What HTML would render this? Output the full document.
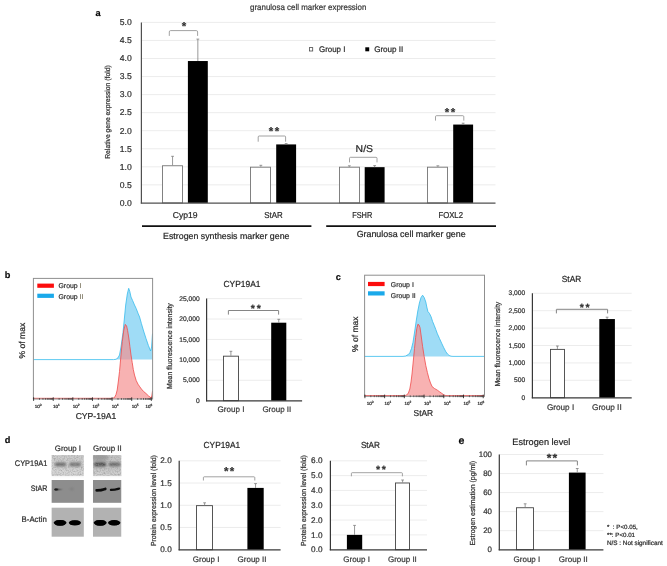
<!DOCTYPE html>
<html lang="en"><head><meta charset="utf-8"><title>granulosa cell marker expression</title>
<style>html,body{margin:0;padding:0;background:#fff}svg{display:block;will-change:transform}text{font-family:"Liberation Sans",sans-serif;text-rendering:geometricPrecision;stroke:#333;stroke-width:.22px}</style></head><body>
<svg width="667" height="566" viewBox="0 0 667 566">
<defs><filter id="b1" x="-20%" y="-80%" width="140%" height="260%"><feGaussianBlur stdDeviation="0.9"/></filter><filter id="b2" x="-20%" y="-80%" width="140%" height="260%"><feGaussianBlur stdDeviation="0.6"/></filter><filter id="b3" x="-20%" y="-80%" width="140%" height="260%"><feGaussianBlur stdDeviation="1.4"/></filter><filter id="nz" x="0" y="0" width="100%" height="100%"><feTurbulence type="fractalNoise" baseFrequency="0.7" numOctaves="2" seed="7" result="n"/><feColorMatrix in="n" type="matrix" values="0 0 0 0 0.3  0 0 0 0 0.3  0 0 0 0 0.3  1.5 0 0 0 -0.6"/><feGaussianBlur stdDeviation="0.35"/><feComposite operator="in" in2="SourceGraphic"/></filter></defs>
<rect width="667" height="566" fill="#fff"/>
<g id="panel-a">
<text x="98.15" y="16.11" font-size="9.20" text-anchor="middle" fill="#000" font-family='"Liberation Sans", sans-serif' font-weight="bold">a</text>
<text x="308.20" y="9.67" font-size="8.30" text-anchor="middle" fill="#404040" font-family='"Liberation Sans", sans-serif' textLength="116.40" lengthAdjust="spacingAndGlyphs">granulosa cell marker expression</text>
<text x="131.80" y="205.73" font-size="8.60" text-anchor="end" fill="#333">0.0</text>
<line x1="141.40" y1="184.85" x2="495.50" y2="184.85" stroke="#e7e7e7" stroke-width="0.8"/>
<text x="131.80" y="187.68" font-size="8.60" text-anchor="end" fill="#333">0.5</text>
<line x1="141.40" y1="166.80" x2="495.50" y2="166.80" stroke="#e7e7e7" stroke-width="0.8"/>
<text x="131.80" y="169.63" font-size="8.60" text-anchor="end" fill="#333">1.0</text>
<line x1="141.40" y1="148.75" x2="495.50" y2="148.75" stroke="#e7e7e7" stroke-width="0.8"/>
<text x="131.80" y="151.58" font-size="8.60" text-anchor="end" fill="#333">1.5</text>
<line x1="141.40" y1="130.70" x2="495.50" y2="130.70" stroke="#e7e7e7" stroke-width="0.8"/>
<text x="131.80" y="133.53" font-size="8.60" text-anchor="end" fill="#333">2.0</text>
<line x1="141.40" y1="112.65" x2="495.50" y2="112.65" stroke="#e7e7e7" stroke-width="0.8"/>
<text x="131.80" y="115.48" font-size="8.60" text-anchor="end" fill="#333">2.5</text>
<line x1="141.40" y1="94.60" x2="495.50" y2="94.60" stroke="#e7e7e7" stroke-width="0.8"/>
<text x="131.80" y="97.43" font-size="8.60" text-anchor="end" fill="#333">3.0</text>
<line x1="141.40" y1="76.55" x2="495.50" y2="76.55" stroke="#e7e7e7" stroke-width="0.8"/>
<text x="131.80" y="79.38" font-size="8.60" text-anchor="end" fill="#333">3.5</text>
<line x1="141.40" y1="58.50" x2="495.50" y2="58.50" stroke="#e7e7e7" stroke-width="0.8"/>
<text x="131.80" y="61.33" font-size="8.60" text-anchor="end" fill="#333">4.0</text>
<line x1="141.40" y1="40.45" x2="495.50" y2="40.45" stroke="#e7e7e7" stroke-width="0.8"/>
<text x="131.80" y="43.28" font-size="8.60" text-anchor="end" fill="#333">4.5</text>
<line x1="141.40" y1="22.40" x2="495.50" y2="22.40" stroke="#e7e7e7" stroke-width="0.8"/>
<text x="131.80" y="25.23" font-size="8.60" text-anchor="end" fill="#333">5.0</text>
<rect x="162.50" y="165.76" width="20.00" height="37.14" fill="#fff" stroke="#747474" stroke-width="0.9"/>
<path d="M172.55 165.36V156.30M171.15 156.30H173.95" stroke="#7f7f7f" stroke-width="0.8" fill="none"/>
<rect x="187.90" y="61.03" width="19.90" height="141.87" fill="#000"/>
<path d="M197.85 61.03V39.10M196.45 39.10H199.25" stroke="#7f7f7f" stroke-width="0.8" fill="none"/>
<rect x="250.50" y="167.20" width="20.00" height="35.70" fill="#fff" stroke="#747474" stroke-width="0.9"/>
<path d="M260.85 166.80V165.30M259.45 165.30H262.25" stroke="#7f7f7f" stroke-width="0.8" fill="none"/>
<rect x="276.20" y="144.42" width="19.90" height="58.48" fill="#000"/>
<path d="M286.15 144.42V143.60M284.75 143.60H287.55" stroke="#7f7f7f" stroke-width="0.8" fill="none"/>
<rect x="339.50" y="167.20" width="20.00" height="35.70" fill="#fff" stroke="#747474" stroke-width="0.9"/>
<path d="M349.35 166.80V165.80M347.95 165.80H350.75" stroke="#7f7f7f" stroke-width="0.8" fill="none"/>
<rect x="364.70" y="167.16" width="19.90" height="35.74" fill="#000"/>
<path d="M374.65 167.16V165.60M373.25 165.60H376.05" stroke="#7f7f7f" stroke-width="0.8" fill="none"/>
<rect x="427.50" y="167.20" width="20.00" height="35.70" fill="#fff" stroke="#747474" stroke-width="0.9"/>
<path d="M437.85 166.80V165.80M436.45 165.80H439.25" stroke="#7f7f7f" stroke-width="0.8" fill="none"/>
<rect x="453.20" y="124.56" width="19.90" height="78.34" fill="#000"/>
<path d="M463.15 124.56V123.20M461.75 123.20H464.55" stroke="#7f7f7f" stroke-width="0.8" fill="none"/>
<line x1="141.40" y1="22.40" x2="141.40" y2="203.50" stroke="#505050" stroke-width="1.2"/>
<line x1="140.80" y1="203.05" x2="495.50" y2="203.05" stroke="#505050" stroke-width="1.3"/>
<text transform="translate(110.17 112.05) rotate(-90)" font-size="7.19" text-anchor="middle" fill="#333" textLength="93.50" lengthAdjust="spacingAndGlyphs">Relative gene expression (fold)</text>
<rect x="309.5" y="47.6" width="3.2" height="3.4" fill="#fff" stroke="#4a4a4a" stroke-width="0.8"/>
<text x="332.20" y="52.00" font-size="8.10" text-anchor="middle" fill="#262626" font-family='"Liberation Sans", sans-serif' textLength="26.40" lengthAdjust="spacingAndGlyphs">Group I</text>
<rect x="365.3" y="47.3" width="3.9" height="4.0" fill="#000"/>
<text x="388.75" y="52.00" font-size="8.10" text-anchor="middle" fill="#262626" font-family='"Liberation Sans", sans-serif'>Group II</text>
<path d="M169.30 35.90V31.90Q169.30 30.60 170.60 30.60H196.30Q197.60 30.60 197.60 31.90V35.90" stroke="#8a8a8a" stroke-width="0.8" fill="none"/>
<text x="184.00" y="29.98" font-size="11.50" text-anchor="middle" fill="#303030" font-weight="bold">*</text>
<path d="M258.20 141.70V137.00Q258.20 136.00 259.20 136.00H284.60Q285.60 136.00 285.60 137.00V141.70" stroke="#8a8a8a" stroke-width="0.8" fill="none"/>
<text x="274.66" y="135.18" font-size="11.50" text-anchor="middle" fill="#303030" font-weight="bold" letter-spacing="1.33">**</text>
<path d="M349.50 162.40V158.30Q349.50 157.30 350.50 157.30H376.00Q377.00 157.30 377.00 158.30V162.40" stroke="#8a8a8a" stroke-width="0.8" fill="none"/>
<text x="364.30" y="151.88" font-size="10.00" text-anchor="middle" fill="#1a1a1a" font-family='"Liberation Sans", sans-serif' textLength="17.40" lengthAdjust="spacingAndGlyphs">N/S</text>
<path d="M435.50 120.60V116.70Q435.50 115.70 436.50 115.70H462.80Q463.80 115.70 463.80 116.70V120.60" stroke="#8a8a8a" stroke-width="0.8" fill="none"/>
<text x="450.66" y="116.08" font-size="11.50" text-anchor="middle" fill="#303030" font-weight="bold" letter-spacing="1.33">**</text>
<text x="185.10" y="218.48" font-size="8.60" text-anchor="middle" fill="#262626" font-family='"Liberation Sans", sans-serif'>Cyp19</text>
<text x="273.40" y="218.48" font-size="8.60" text-anchor="middle" fill="#262626" font-family='"Liberation Sans", sans-serif' textLength="18.40" lengthAdjust="spacingAndGlyphs">StAR</text>
<text x="362.20" y="218.48" font-size="8.60" text-anchor="middle" fill="#262626" font-family='"Liberation Sans", sans-serif' textLength="20.00" lengthAdjust="spacingAndGlyphs">FSHR</text>
<text x="450.70" y="218.48" font-size="8.60" text-anchor="middle" fill="#262626" font-family='"Liberation Sans", sans-serif' textLength="24.60" lengthAdjust="spacingAndGlyphs">FOXL2</text>
<line x1="142.00" y1="226.20" x2="311.40" y2="226.20" stroke="#111" stroke-width="1.8"/>
<line x1="326.20" y1="226.20" x2="496.00" y2="226.20" stroke="#111" stroke-width="1.8"/>
<text x="226.25" y="238.66" font-size="8.82" text-anchor="middle" fill="#1a1a1a" font-family='"Liberation Sans", sans-serif'>Estrogen synthesis marker gene</text>
<text x="411.15" y="237.38" font-size="8.88" text-anchor="middle" fill="#1a1a1a" font-family='"Liberation Sans", sans-serif'>Granulosa cell marker gene</text>
</g>
<g id="panel-b">
<text x="7.55" y="278.39" font-size="9.20" text-anchor="middle" fill="#000" font-family='"Liberation Sans", sans-serif' font-weight="bold">b</text>
<path d="M33.4 359.6L33.4 359.6L113.5 359.6L116.0 359.3L118.0 357.8L119.5 355.0L121.0 347.0L123.0 332.5L125.7 305.0L127.3 294.0L128.7 288.3L129.8 291.5L131.0 297.0L132.6 300.5L134.5 305.0L136.2 308.5L138.0 313.2L139.6 317.0L141.4 323.5L143.6 331.0L146.0 338.5L148.4 345.5L150.6 351.0L151.6 347.0L152.5 333.5L152.5 359.6Z" fill="#9fdcf6" stroke="none"/>
<path d="M33.4 359.6L33.4 359.6L113.5 359.6L116.0 359.3L118.0 357.8L119.5 355.0L121.0 347.0L123.0 332.5L125.7 305.0L127.3 294.0L128.7 288.3L129.8 291.5L131.0 297.0L132.6 300.5L134.5 305.0L136.2 308.5L138.0 313.2L139.6 317.0L141.4 323.5L143.6 331.0L146.0 338.5L148.4 345.5L150.6 351.0L151.6 347.0L152.5 333.5" fill="none" stroke="#36bbec" stroke-width="0.8" stroke-linejoin="round"/>
<path d="M33.4 399.0L33.4 398.3L112.5 398.3L114.5 397.5L116.0 394.5L117.2 390.0L118.4 381.0L119.5 371.5L121.0 355.0L122.3 341.5L123.8 330.0L125.3 324.4L126.6 326.0L127.6 330.5L128.8 338.0L129.9 346.5L131.0 355.0L132.2 362.5L133.3 369.5L134.5 375.0L136.2 380.5L138.0 384.2L139.8 386.8L141.4 389.0L143.6 391.5L146.0 393.5L148.6 396.0L151.0 397.8L151.8 396.0L152.5 391.0L152.5 399.0Z" fill="#f48e8e" fill-opacity="0.68" stroke="none"/>
<path d="M33.4 399.0L33.4 398.3L112.5 398.3L114.5 397.5L116.0 394.5L117.2 390.0L118.4 381.0L119.5 371.5L121.0 355.0L122.3 341.5L123.8 330.0L125.3 324.4L126.6 326.0L127.6 330.5L128.8 338.0L129.9 346.5L131.0 355.0L132.2 362.5L133.3 369.5L134.5 375.0L136.2 380.5L138.0 384.2L139.8 386.8L141.4 389.0L143.6 391.5L146.0 393.5L148.6 396.0L151.0 397.8L151.8 396.0L152.5 391.0" fill="none" stroke="#f04a4a" stroke-width="0.8" stroke-linejoin="round"/>
<rect x="33.4" y="278.4" width="119.2" height="120.6" fill="none" stroke="#8f8f8f" stroke-width="1"/>
<path d="M39.51 398.0v1.9M42.96 398.0v1.9M45.41 398.0v1.9M47.31 398.0v1.9M48.87 398.0v1.9M50.18 398.0v1.9M51.32 398.0v1.9M52.32 398.0v1.9M59.13 398.0v1.9M62.58 398.0v1.9M65.03 398.0v1.9M66.93 398.0v1.9M68.49 398.0v1.9M69.80 398.0v1.9M70.94 398.0v1.9M71.94 398.0v1.9M78.75 398.0v1.9M82.20 398.0v1.9M84.65 398.0v1.9M86.55 398.0v1.9M88.11 398.0v1.9M89.42 398.0v1.9M90.56 398.0v1.9M91.56 398.0v1.9M98.37 398.0v1.9M101.82 398.0v1.9M104.27 398.0v1.9M106.17 398.0v1.9M107.73 398.0v1.9M109.04 398.0v1.9M110.18 398.0v1.9M111.18 398.0v1.9M117.99 398.0v1.9M121.44 398.0v1.9M123.89 398.0v1.9M125.79 398.0v1.9M127.35 398.0v1.9M128.66 398.0v1.9M129.80 398.0v1.9M130.80 398.0v1.9M137.61 398.0v1.9M141.06 398.0v1.9M143.51 398.0v1.9M145.41 398.0v1.9M146.97 398.0v1.9M148.28 398.0v1.9M149.42 398.0v1.9M150.42 398.0v1.9" stroke="#1a1a1a" stroke-width="0.55" fill="none"/>
<path d="M33.60 397.3v3.6M53.22 397.3v3.6M72.84 397.3v3.6M92.46 397.3v3.6M112.08 397.3v3.6M131.70 397.3v3.6M151.32 397.3v3.6" stroke="#111" stroke-width="0.8" fill="none"/>
<rect x="37.3" y="283.6" width="16.6" height="4.2" fill="#fc0d0d"/>
<rect x="37.3" y="293.7" width="16.6" height="4.2" fill="#1aa9ea"/>
<text x="58.50" y="288.37" font-size="6.9" fill="#333">Group <tspan fill="#7d7762" stroke="#7d7762">I</tspan></text>
<text x="58.50" y="298.67" font-size="6.9" fill="#333">Group <tspan fill="#7d7762" stroke="#7d7762">II</tspan></text>
<text transform="translate(25.22 340.60) rotate(-90)" font-size="8.54" text-anchor="middle" fill="#262626">% of max</text>
<text x="38.1" y="407.6" font-size="4.5" text-anchor="middle" fill="#0a0a0a">10<tspan font-size="3.2" dy="-1.9">0</tspan></text>
<text x="56.3" y="407.6" font-size="4.5" text-anchor="middle" fill="#0a0a0a">10<tspan font-size="3.2" dy="-1.9">1</tspan></text>
<text x="76.1" y="407.6" font-size="4.5" text-anchor="middle" fill="#0a0a0a">10<tspan font-size="3.2" dy="-1.9">2</tspan></text>
<text x="95.8" y="407.6" font-size="4.5" text-anchor="middle" fill="#0a0a0a">10<tspan font-size="3.2" dy="-1.9">3</tspan></text>
<text x="115.1" y="407.6" font-size="4.5" text-anchor="middle" fill="#0a0a0a">10<tspan font-size="3.2" dy="-1.9">4</tspan></text>
<text x="135.2" y="407.6" font-size="4.5" text-anchor="middle" fill="#0a0a0a">10<tspan font-size="3.2" dy="-1.9">5</tspan></text>
<text x="149.0" y="407.6" font-size="4.5" text-anchor="middle" fill="#0a0a0a">10<tspan font-size="3.2" dy="-1.9">6</tspan></text>
<text x="95.95" y="419.08" font-size="8.60" text-anchor="middle" fill="#262626" font-family='"Liberation Sans", sans-serif'>CYP-19A1</text>
<text x="199.70" y="402.85" font-size="6.70" text-anchor="end" fill="#333">0</text>
<line x1="206.60" y1="380.28" x2="302.10" y2="380.28" stroke="#e7e7e7" stroke-width="0.8"/>
<text x="199.70" y="382.43" font-size="6.70" text-anchor="end" fill="#333">5,000</text>
<line x1="206.60" y1="359.86" x2="302.10" y2="359.86" stroke="#e7e7e7" stroke-width="0.8"/>
<text x="199.70" y="362.01" font-size="6.70" text-anchor="end" fill="#333">10,000</text>
<line x1="206.60" y1="339.44" x2="302.10" y2="339.44" stroke="#e7e7e7" stroke-width="0.8"/>
<text x="199.70" y="341.59" font-size="6.70" text-anchor="end" fill="#333">15,000</text>
<line x1="206.60" y1="319.02" x2="302.10" y2="319.02" stroke="#e7e7e7" stroke-width="0.8"/>
<text x="199.70" y="321.17" font-size="6.70" text-anchor="end" fill="#333">20,000</text>
<line x1="206.60" y1="298.60" x2="302.10" y2="298.60" stroke="#e7e7e7" stroke-width="0.8"/>
<text x="199.70" y="300.75" font-size="6.70" text-anchor="end" fill="#333">25,000</text>
<rect x="223.50" y="356.18" width="15.00" height="44.52" fill="#fff" stroke="#444" stroke-width="0.9"/>
<path d="M230.90 355.78V351.30M229.50 351.30H232.30" stroke="#7f7f7f" stroke-width="0.8" fill="none"/>
<rect x="271.20" y="322.70" width="15.10" height="78.00" fill="#000"/>
<path d="M278.75 322.70V319.30M277.35 319.30H280.15" stroke="#7f7f7f" stroke-width="0.8" fill="none"/>
<line x1="206.60" y1="298.60" x2="206.60" y2="401.30" stroke="#383838" stroke-width="1.2"/>
<line x1="206.00" y1="400.85" x2="302.10" y2="400.85" stroke="#383838" stroke-width="1.3"/>
<text transform="translate(171.51 346.10) rotate(-90)" font-size="7.34" text-anchor="middle" fill="#333" textLength="85.80" lengthAdjust="spacingAndGlyphs">Mean fluorescence intensity</text>
<text x="242.00" y="286.65" font-size="8.80" text-anchor="middle" fill="#1a1a1a" font-family='"Liberation Sans", sans-serif' textLength="37.00" lengthAdjust="spacingAndGlyphs">CYP19A1</text>
<text x="231.05" y="412.29" font-size="8.07" text-anchor="middle" fill="#404040" font-family='"Liberation Sans", sans-serif'>Group I</text>
<text x="276.85" y="412.26" font-size="8.00" text-anchor="middle" fill="#404040" font-family='"Liberation Sans", sans-serif'>Group II</text>
<path d="M228.40 314.60V310.70Q228.40 310.50 228.60 310.50H278.40Q278.60 310.50 278.60 310.70V314.60" stroke="#666" stroke-width="0.8" fill="none"/>
<text x="256.66" y="312.19" font-size="10.50" text-anchor="middle" fill="#303030" font-weight="bold" letter-spacing="1.72">**</text>
</g>
<g id="panel-c">
<text x="338.40" y="280.01" font-size="9.20" text-anchor="middle" fill="#000" font-family='"Liberation Sans", sans-serif' font-weight="bold">c</text>
<path d="M364.6 356.4L364.5 356.4L403.0 356.4L405.5 356.0L408.0 354.8L409.8 352.9L411.5 348.5L413.0 342.3L414.6 332.0L416.2 321.0L417.8 311.0L419.4 303.0L421.0 297.5L422.6 295.2L424.2 297.5L425.8 302.0L426.8 307.0L427.9 311.5L429.5 313.5L431.1 316.8L432.6 321.5L434.2 325.3L435.8 329.5L437.4 333.8L439.5 338.5L441.7 343.3L443.8 347.8L445.9 351.8L447.5 354.0L449.1 355.4L451.0 356.2L453.0 356.4L484.6 356.4L484.6 356.4Z" fill="#9fdcf6" stroke="none"/>
<path d="M364.6 356.4L364.5 356.4L403.0 356.4L405.5 356.0L408.0 354.8L409.8 352.9L411.5 348.5L413.0 342.3L414.6 332.0L416.2 321.0L417.8 311.0L419.4 303.0L421.0 297.5L422.6 295.2L424.2 297.5L425.8 302.0L426.8 307.0L427.9 311.5L429.5 313.5L431.1 316.8L432.6 321.5L434.2 325.3L435.8 329.5L437.4 333.8L439.5 338.5L441.7 343.3L443.8 347.8L445.9 351.8L447.5 354.0L449.1 355.4L451.0 356.2L453.0 356.4L484.6 356.4" fill="none" stroke="#36bbec" stroke-width="0.8" stroke-linejoin="round"/>
<path d="M364.6 396.3L364.5 395.6L405.0 395.6L406.7 395.0L408.4 393.0L409.8 389.0L411.0 382.0L412.0 374.0L413.2 362.0L414.5 348.5L415.6 337.5L416.8 328.5L417.9 324.2L419.0 325.0L420.0 327.5L421.2 336.0L422.6 346.5L424.2 356.5L425.8 365.6L427.4 372.5L428.9 378.3L430.5 383.0L432.1 386.6L434.5 388.5L437.4 390.2L439.6 391.8L441.7 393.3L443.4 394.6L444.9 395.4L447.0 395.6L484.6 395.6L484.6 396.3Z" fill="#f48e8e" fill-opacity="0.68" stroke="none"/>
<path d="M364.6 396.3L364.5 395.6L405.0 395.6L406.7 395.0L408.4 393.0L409.8 389.0L411.0 382.0L412.0 374.0L413.2 362.0L414.5 348.5L415.6 337.5L416.8 328.5L417.9 324.2L419.0 325.0L420.0 327.5L421.2 336.0L422.6 346.5L424.2 356.5L425.8 365.6L427.4 372.5L428.9 378.3L430.5 383.0L432.1 386.6L434.5 388.5L437.4 390.2L439.6 391.8L441.7 393.3L443.4 394.6L444.9 395.4L447.0 395.6L484.6 395.6" fill="none" stroke="#f04a4a" stroke-width="0.8" stroke-linejoin="round"/>
<rect x="364.6" y="275.2" width="119.9" height="121.1" fill="none" stroke="#8f8f8f" stroke-width="1"/>
<path d="M370.84 395.3v1.9M374.31 395.3v1.9M376.77 395.3v1.9M378.68 395.3v1.9M380.25 395.3v1.9M381.57 395.3v1.9M382.71 395.3v1.9M383.72 395.3v1.9M390.56 395.3v1.9M394.03 395.3v1.9M396.49 395.3v1.9M398.40 395.3v1.9M399.97 395.3v1.9M401.29 395.3v1.9M402.43 395.3v1.9M403.44 395.3v1.9M410.28 395.3v1.9M413.75 395.3v1.9M416.21 395.3v1.9M418.12 395.3v1.9M419.69 395.3v1.9M421.01 395.3v1.9M422.15 395.3v1.9M423.16 395.3v1.9M430.00 395.3v1.9M433.47 395.3v1.9M435.93 395.3v1.9M437.84 395.3v1.9M439.41 395.3v1.9M440.73 395.3v1.9M441.87 395.3v1.9M442.88 395.3v1.9M449.72 395.3v1.9M453.19 395.3v1.9M455.65 395.3v1.9M457.56 395.3v1.9M459.13 395.3v1.9M460.45 395.3v1.9M461.59 395.3v1.9M462.60 395.3v1.9M469.44 395.3v1.9M472.91 395.3v1.9M475.37 395.3v1.9M477.28 395.3v1.9M478.85 395.3v1.9M480.17 395.3v1.9M481.31 395.3v1.9M482.32 395.3v1.9" stroke="#1a1a1a" stroke-width="0.55" fill="none"/>
<path d="M364.90 394.6v3.6M384.62 394.6v3.6M404.34 394.6v3.6M424.06 394.6v3.6M443.78 394.6v3.6M463.50 394.6v3.6M483.22 394.6v3.6" stroke="#111" stroke-width="0.8" fill="none"/>
<rect x="368.0" y="281.9" width="16.6" height="4.2" fill="#fc0d0d"/>
<rect x="368.0" y="291.3" width="16.6" height="4.2" fill="#1aa9ea"/>
<text x="390.80" y="286.67" font-size="6.9" fill="#333">Group <tspan fill="#333" stroke="#333">I</tspan></text>
<text x="390.80" y="297.67" font-size="6.9" fill="#333">Group <tspan fill="#333" stroke="#333">II</tspan></text>
<text transform="translate(358.41 334.20) rotate(-90)" font-size="8.49" text-anchor="middle" fill="#262626">% of max</text>
<text x="370.1" y="404.7" font-size="4.5" text-anchor="middle" fill="#0a0a0a">10<tspan font-size="3.2" dy="-1.9">0</tspan></text>
<text x="387.9" y="404.7" font-size="4.5" text-anchor="middle" fill="#0a0a0a">10<tspan font-size="3.2" dy="-1.9">1</tspan></text>
<text x="407.8" y="404.7" font-size="4.5" text-anchor="middle" fill="#0a0a0a">10<tspan font-size="3.2" dy="-1.9">2</tspan></text>
<text x="427.3" y="404.7" font-size="4.5" text-anchor="middle" fill="#0a0a0a">10<tspan font-size="3.2" dy="-1.9">3</tspan></text>
<text x="447.1" y="404.7" font-size="4.5" text-anchor="middle" fill="#0a0a0a">10<tspan font-size="3.2" dy="-1.9">4</tspan></text>
<text x="466.8" y="404.7" font-size="4.5" text-anchor="middle" fill="#0a0a0a">10<tspan font-size="3.2" dy="-1.9">5</tspan></text>
<text x="481.0" y="404.7" font-size="4.5" text-anchor="middle" fill="#0a0a0a">10<tspan font-size="3.2" dy="-1.9">6</tspan></text>
<text x="423.35" y="416.48" font-size="8.60" text-anchor="middle" fill="#262626" font-family='"Liberation Sans", sans-serif' textLength="19.50" lengthAdjust="spacingAndGlyphs">StAR</text>
<text x="525.20" y="399.85" font-size="6.70" text-anchor="end" fill="#333">0</text>
<line x1="532.40" y1="380.30" x2="631.70" y2="380.30" stroke="#e7e7e7" stroke-width="0.8"/>
<text x="525.20" y="382.45" font-size="6.70" text-anchor="end" fill="#333">500</text>
<line x1="532.40" y1="362.90" x2="631.70" y2="362.90" stroke="#e7e7e7" stroke-width="0.8"/>
<text x="525.20" y="365.05" font-size="6.70" text-anchor="end" fill="#333">1,000</text>
<line x1="532.40" y1="345.50" x2="631.70" y2="345.50" stroke="#e7e7e7" stroke-width="0.8"/>
<text x="525.20" y="347.65" font-size="6.70" text-anchor="end" fill="#333">1,500</text>
<line x1="532.40" y1="328.10" x2="631.70" y2="328.10" stroke="#e7e7e7" stroke-width="0.8"/>
<text x="525.20" y="330.25" font-size="6.70" text-anchor="end" fill="#333">2,000</text>
<line x1="532.40" y1="310.70" x2="631.70" y2="310.70" stroke="#e7e7e7" stroke-width="0.8"/>
<text x="525.20" y="312.85" font-size="6.70" text-anchor="end" fill="#333">2,500</text>
<line x1="532.40" y1="293.30" x2="631.70" y2="293.30" stroke="#e7e7e7" stroke-width="0.8"/>
<text x="525.20" y="295.45" font-size="6.70" text-anchor="end" fill="#333">3,000</text>
<rect x="550.50" y="349.38" width="14.00" height="48.32" fill="#fff" stroke="#444" stroke-width="0.9"/>
<path d="M557.40 348.98V346.00M556.00 346.00H558.80" stroke="#7f7f7f" stroke-width="0.8" fill="none"/>
<rect x="599.30" y="319.05" width="15.60" height="78.65" fill="#000"/>
<path d="M607.10 319.05V317.20M605.70 317.20H608.50" stroke="#7f7f7f" stroke-width="0.8" fill="none"/>
<line x1="532.40" y1="293.30" x2="532.40" y2="398.30" stroke="#383838" stroke-width="1.2"/>
<line x1="531.80" y1="397.85" x2="631.70" y2="397.85" stroke="#383838" stroke-width="1.3"/>
<text transform="translate(500.49 344.20) rotate(-90)" font-size="7.25" text-anchor="middle" fill="#333" textLength="84.80" lengthAdjust="spacingAndGlyphs">Mean fluorescence intensity</text>
<text x="571.50" y="282.05" font-size="8.80" text-anchor="middle" fill="#1a1a1a" font-family='"Liberation Sans", sans-serif' textLength="19.40" lengthAdjust="spacingAndGlyphs">StAR</text>
<text x="560.60" y="410.12" font-size="8.16" text-anchor="middle" fill="#404040" font-family='"Liberation Sans", sans-serif'>Group I</text>
<text x="606.85" y="410.14" font-size="8.22" text-anchor="middle" fill="#404040" font-family='"Liberation Sans", sans-serif'>Group II</text>
<path d="M556.40 313.40V309.50Q556.40 309.30 556.60 309.30H607.40Q607.60 309.30 607.60 309.50V313.40" stroke="#666" stroke-width="0.8" fill="none"/>
<text x="585.46" y="310.99" font-size="10.50" text-anchor="middle" fill="#303030" font-weight="bold" letter-spacing="1.72">**</text>
</g>
<g id="panel-d">
<text x="7.45" y="443.19" font-size="9.20" text-anchor="middle" fill="#000" font-family='"Liberation Sans", sans-serif' font-weight="bold">d</text>
<text x="67.90" y="451.01" font-size="7.86" text-anchor="middle" fill="#333" font-family='"Liberation Sans", sans-serif'>Group I</text>
<text x="107.35" y="451.04" font-size="7.94" text-anchor="middle" fill="#333" font-family='"Liberation Sans", sans-serif'>Group II</text>
<text x="47.30" y="465.95" font-size="8.10" text-anchor="end" fill="#2a2a2a" textLength="32.50" lengthAdjust="spacingAndGlyphs">CYP19A1</text>
<text x="47.30" y="491.35" font-size="8.10" text-anchor="end" fill="#2a2a2a" textLength="16.50" lengthAdjust="spacingAndGlyphs">StAR</text>
<text x="46.80" y="521.85" font-size="8.10" text-anchor="end" fill="#2a2a2a" textLength="25.20" lengthAdjust="spacingAndGlyphs">B-Actin</text>
<clipPath id="cl"><rect x="51.4" y="455.1" width="32.5" height="82"/></clipPath>
<clipPath id="cr"><rect x="92.9" y="455.1" width="28.6" height="82"/></clipPath>
<linearGradient id="fade" x1="0" x2="1"><stop offset="0" stop-color="#1c1c1c"/><stop offset="0.35" stop-color="#3a3a3a" stop-opacity="0.85"/><stop offset="1" stop-color="#777" stop-opacity="0"/></linearGradient>
<g clip-path="url(#cl)">
<rect x="51.4" y="455.1" width="32.5" height="20.7" fill="#cdcdcd"/>
<rect x="51.4" y="468.5" width="33" height="7.5" fill="#dcdcdc" opacity="0.6" filter="url(#b3)"/>
<rect x="54.9" y="462.6" width="11.2" height="3.6" rx="1.6" fill="#5e5e5e" opacity="0.88" filter="url(#b1)"/>
<rect x="69.3" y="462.6" width="11.6" height="3.6" rx="1.6" fill="#626262" opacity="0.85" filter="url(#b1)"/>
<rect x="51.4" y="455.1" width="32.5" height="20.7" fill="#000" filter="url(#nz)"/>
<rect x="51.4" y="480.0" width="32.5" height="22.8" fill="#8d8d8d"/>
<rect x="54.3" y="488.5" width="9.5" height="1.9" rx="0.9" fill="url(#fade)" filter="url(#b2)"/>
<ellipse cx="56.2" cy="489.4" rx="1.7" ry="1.0" fill="#1a1a1a" filter="url(#b2)"/>
<ellipse cx="71.8" cy="489.0" rx="2.2" ry="0.8" fill="#666" opacity="0.55" filter="url(#b1)"/>
<rect x="51.4" y="507.7" width="32.5" height="29.0" fill="#b2b2b2"/>
<ellipse cx="60.1" cy="522.8" rx="6.4" ry="2.9" fill="#030303" filter="url(#b2)"/>
<rect x="54.9" y="520.2" width="10.4" height="5.2" rx="2.6" fill="#030303" filter="url(#b2)"/>
<ellipse cx="74.9" cy="522.8" rx="6.1" ry="2.6" fill="#030303" filter="url(#b2)"/>
<rect x="70.0" y="520.5" width="9.8" height="4.6" rx="2.3" fill="#030303" filter="url(#b2)"/>
</g>
<g clip-path="url(#cr)">
<rect x="92.9" y="455.1" width="28.6" height="20.7" fill="#c4c4c4"/>
<ellipse cx="100" cy="457.5" rx="9" ry="3.6" fill="#8e8e8e" opacity="0.75" filter="url(#b3)"/>
<rect x="92.9" y="470.5" width="29" height="5.5" fill="#d8d8d8" opacity="0.6" filter="url(#b3)"/>
<rect x="94.0" y="462.3" width="12.0" height="4.2" rx="1.6" fill="#3c3c3c" opacity="0.9" filter="url(#b1)"/>
<rect x="108.6" y="462.5" width="11.9" height="3.8" rx="1.6" fill="#565656" opacity="0.85" filter="url(#b1)"/>
<rect x="92.9" y="455.1" width="28.6" height="20.7" fill="#000" filter="url(#nz)"/>
<rect x="92.9" y="480.0" width="28.6" height="22.8" fill="#8d8d8d"/>
<path d="M96.6 490.4q4 0.1 8.7 -1.5" stroke="#0c0c0c" stroke-width="2.6" stroke-linecap="round" fill="none" filter="url(#b2)"/>
<path d="M110.9 489.9q4 -0.1 8.2 -1.3" stroke="#111" stroke-width="2.2" stroke-linecap="round" fill="none" filter="url(#b2)"/>
<rect x="92.9" y="507.7" width="28.6" height="29.0" fill="#b2b2b2"/>
<ellipse cx="100.2" cy="522.8" rx="6.5" ry="2.9" fill="#030303" filter="url(#b2)"/>
<rect x="94.9" y="520.2" width="10.6" height="5.2" rx="2.6" fill="#030303" filter="url(#b2)"/>
<ellipse cx="114.2" cy="522.8" rx="6.2" ry="2.7" fill="#030303" filter="url(#b2)"/>
<rect x="109.2" y="520.4" width="10.0" height="4.8" rx="2.4" fill="#030303" filter="url(#b2)"/>
</g>
<text x="171.70" y="552.39" font-size="8.20" text-anchor="end" fill="#333">0.0</text>
<line x1="179.20" y1="527.48" x2="280.60" y2="527.48" stroke="#e7e7e7" stroke-width="0.8"/>
<text x="171.70" y="530.16" font-size="8.20" text-anchor="end" fill="#333">0.5</text>
<line x1="179.20" y1="505.25" x2="280.60" y2="505.25" stroke="#e7e7e7" stroke-width="0.8"/>
<text x="171.70" y="507.94" font-size="8.20" text-anchor="end" fill="#333">1.0</text>
<line x1="179.20" y1="483.03" x2="280.60" y2="483.03" stroke="#e7e7e7" stroke-width="0.8"/>
<text x="171.70" y="485.71" font-size="8.20" text-anchor="end" fill="#333">1.5</text>
<line x1="179.20" y1="460.80" x2="280.60" y2="460.80" stroke="#e7e7e7" stroke-width="0.8"/>
<text x="171.70" y="463.49" font-size="8.20" text-anchor="end" fill="#333">2.0</text>
<rect x="196.50" y="505.65" width="16.00" height="44.05" fill="#fff" stroke="#444" stroke-width="0.9"/>
<path d="M204.60 505.25V502.80M203.20 502.80H206.00" stroke="#7f7f7f" stroke-width="0.8" fill="none"/>
<rect x="247.40" y="487.91" width="16.30" height="61.79" fill="#000"/>
<path d="M255.55 487.91V483.60M254.15 483.60H256.95" stroke="#7f7f7f" stroke-width="0.8" fill="none"/>
<line x1="179.20" y1="460.80" x2="179.20" y2="550.30" stroke="#383838" stroke-width="1.2"/>
<line x1="178.60" y1="549.85" x2="280.60" y2="549.85" stroke="#383838" stroke-width="1.3"/>
<text transform="translate(156.20 500.65) rotate(-90)" font-size="7.31" text-anchor="middle" fill="#333" textLength="90.90" lengthAdjust="spacingAndGlyphs">Protein expression level (fold)</text>
<text x="221.90" y="447.55" font-size="8.80" text-anchor="middle" fill="#1a1a1a" font-family='"Liberation Sans", sans-serif' textLength="36.60" lengthAdjust="spacingAndGlyphs">CYP19A1</text>
<text x="206.10" y="562.16" font-size="8.00" text-anchor="middle" fill="#404040" font-family='"Liberation Sans", sans-serif'>Group I</text>
<text x="252.00" y="562.16" font-size="8.00" text-anchor="middle" fill="#404040" font-family='"Liberation Sans", sans-serif'>Group II</text>
<path d="M203.40 480.50V477.60Q203.40 476.80 204.20 476.80H254.00Q254.80 476.80 254.80 477.60V480.50" stroke="#8a8a8a" stroke-width="0.8" fill="none"/>
<text x="229.76" y="475.08" font-size="11.50" text-anchor="middle" fill="#303030" font-weight="bold" letter-spacing="1.33">**</text>
<text x="322.50" y="552.39" font-size="8.20" text-anchor="end" fill="#333">0.0</text>
<line x1="330.40" y1="534.88" x2="427.00" y2="534.88" stroke="#e7e7e7" stroke-width="0.8"/>
<text x="322.50" y="537.57" font-size="8.20" text-anchor="end" fill="#333">1.0</text>
<line x1="330.40" y1="520.07" x2="427.00" y2="520.07" stroke="#e7e7e7" stroke-width="0.8"/>
<text x="322.50" y="522.75" font-size="8.20" text-anchor="end" fill="#333">2.0</text>
<line x1="330.40" y1="505.25" x2="427.00" y2="505.25" stroke="#e7e7e7" stroke-width="0.8"/>
<text x="322.50" y="507.94" font-size="8.20" text-anchor="end" fill="#333">3.0</text>
<line x1="330.40" y1="490.43" x2="427.00" y2="490.43" stroke="#e7e7e7" stroke-width="0.8"/>
<text x="322.50" y="493.12" font-size="8.20" text-anchor="end" fill="#333">4.0</text>
<line x1="330.40" y1="475.62" x2="427.00" y2="475.62" stroke="#e7e7e7" stroke-width="0.8"/>
<text x="322.50" y="478.30" font-size="8.20" text-anchor="end" fill="#333">5.0</text>
<line x1="330.40" y1="460.80" x2="427.00" y2="460.80" stroke="#e7e7e7" stroke-width="0.8"/>
<text x="322.50" y="463.49" font-size="8.20" text-anchor="end" fill="#333">6.0</text>
<rect x="346.90" y="534.88" width="15.30" height="14.82" fill="#000"/>
<path d="M354.55 534.88V525.40M353.15 525.40H355.95" stroke="#7f7f7f" stroke-width="0.8" fill="none"/>
<rect x="395.50" y="482.98" width="14.00" height="66.72" fill="#fff" stroke="#444" stroke-width="0.9"/>
<path d="M402.60 482.58V480.00M401.20 480.00H404.00" stroke="#7f7f7f" stroke-width="0.8" fill="none"/>
<line x1="330.40" y1="460.80" x2="330.40" y2="550.30" stroke="#383838" stroke-width="1.2"/>
<line x1="329.80" y1="549.85" x2="427.00" y2="549.85" stroke="#383838" stroke-width="1.3"/>
<text transform="translate(306.20 500.65) rotate(-90)" font-size="7.31" text-anchor="middle" fill="#333" textLength="90.90" lengthAdjust="spacingAndGlyphs">Protein expression level (fold)</text>
<text x="370.45" y="447.55" font-size="8.80" text-anchor="middle" fill="#1a1a1a" font-family='"Liberation Sans", sans-serif' textLength="19.10" lengthAdjust="spacingAndGlyphs">StAR</text>
<text x="356.60" y="562.16" font-size="8.00" text-anchor="middle" fill="#404040" font-family='"Liberation Sans", sans-serif'>Group I</text>
<text x="402.40" y="562.16" font-size="8.00" text-anchor="middle" fill="#404040" font-family='"Liberation Sans", sans-serif'>Group II</text>
<path d="M351.40 476.30V473.50Q351.40 472.70 352.20 472.70H401.60Q402.40 472.70 402.40 473.50V476.30" stroke="#8a8a8a" stroke-width="0.8" fill="none"/>
<text x="381.76" y="473.29" font-size="10.50" text-anchor="middle" fill="#303030" font-weight="bold" letter-spacing="1.72">**</text>
</g>
<g id="panel-e">
<text x="461.50" y="443.88" font-size="10.60" text-anchor="middle" fill="#000" font-family='"Liberation Serif", serif' font-weight="bold">e</text>
<text x="492.00" y="552.28" font-size="7.90" text-anchor="end" fill="#333">0</text>
<line x1="499.30" y1="530.66" x2="603.40" y2="530.66" stroke="#e7e7e7" stroke-width="0.8"/>
<text x="492.00" y="533.24" font-size="7.90" text-anchor="end" fill="#333">20</text>
<line x1="499.30" y1="511.62" x2="603.40" y2="511.62" stroke="#e7e7e7" stroke-width="0.8"/>
<text x="492.00" y="514.20" font-size="7.90" text-anchor="end" fill="#333">40</text>
<line x1="499.30" y1="492.58" x2="603.40" y2="492.58" stroke="#e7e7e7" stroke-width="0.8"/>
<text x="492.00" y="495.16" font-size="7.90" text-anchor="end" fill="#333">60</text>
<line x1="499.30" y1="473.54" x2="603.40" y2="473.54" stroke="#e7e7e7" stroke-width="0.8"/>
<text x="492.00" y="476.12" font-size="7.90" text-anchor="end" fill="#333">80</text>
<line x1="499.30" y1="454.50" x2="603.40" y2="454.50" stroke="#e7e7e7" stroke-width="0.8"/>
<text x="492.00" y="457.08" font-size="7.90" text-anchor="end" fill="#333">100</text>
<rect x="516.50" y="507.74" width="17.00" height="41.96" fill="#fff" stroke="#444" stroke-width="0.9"/>
<path d="M525.15 507.34V503.80M523.75 503.80H526.55" stroke="#7f7f7f" stroke-width="0.8" fill="none"/>
<rect x="568.90" y="472.59" width="16.70" height="77.11" fill="#000"/>
<path d="M577.25 472.59V468.50M575.85 468.50H578.65" stroke="#7f7f7f" stroke-width="0.8" fill="none"/>
<line x1="499.30" y1="454.50" x2="499.30" y2="550.30" stroke="#383838" stroke-width="1.2"/>
<line x1="498.70" y1="549.85" x2="603.40" y2="549.85" stroke="#383838" stroke-width="1.3"/>
<text transform="translate(475.11 503.25) rotate(-90)" font-size="7.34" text-anchor="middle" fill="#333" textLength="84.70" lengthAdjust="spacingAndGlyphs">Estrogen estimation (pg/ml)</text>
<text x="541.35" y="445.40" font-size="9.17" text-anchor="middle" fill="#1a1a1a" font-family='"Liberation Sans", sans-serif'>Estrogen level</text>
<text x="526.90" y="562.16" font-size="8.00" text-anchor="middle" fill="#404040" font-family='"Liberation Sans", sans-serif'>Group I</text>
<text x="573.30" y="562.16" font-size="8.00" text-anchor="middle" fill="#404040" font-family='"Liberation Sans", sans-serif'>Group II</text>
<path d="M526.40 465.40V461.10Q526.40 460.90 526.60 460.90H577.20Q577.40 460.90 577.40 461.10V465.40" stroke="#666" stroke-width="0.8" fill="none"/>
<text x="552.57" y="461.62" font-size="12.00" text-anchor="middle" fill="#303030" font-weight="bold" letter-spacing="1.13">**</text>
<text x="607.0" y="528.9" font-size="6.2" fill="#262626" xml:space="preserve">*  : P&lt;0.05,</text>
<text x="607.0" y="536.8" font-size="6.2" fill="#262626">**: P&lt;0.01</text>
<text x="607.0" y="545.2" font-size="6.35" fill="#262626">N/S : Not significant</text>
</g>
</svg></body></html>
